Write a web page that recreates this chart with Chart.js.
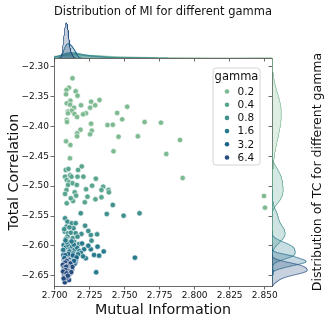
<!DOCTYPE html>
<html>
<head>
<meta charset="utf-8">
<script src="https://cdn.jsdelivr.net/npm/chart.js@4.4.0/dist/chart.umd.min.js"></script>
<style>
  html, body { margin: 0; padding: 0; background: #fff; }
  #wrap { position: relative; width: 330px; height: 322px; }
  #wrap canvas { position: absolute; left: 0; top: 0; }
</style>
</head>
<body>
<div id="wrap">
  <canvas id="main" width="330" height="322"></canvas>
  <canvas id="margx" width="330" height="322"></canvas>
  <canvas id="margy" width="330" height="322"></canvas>
</div>
<script>
// gamma levels and their (MI, TC) points
const gammas = ['0.2', '0.4', '0.8', '1.6', '3.2', '6.4'];

const g02 = [
  [2.7127,-2.3194],[2.7102,-2.3352],[2.7084,-2.3390],[2.7150,-2.3412],[2.7081,-2.3462],[2.7163,-2.3485],
  [2.7112,-2.3569],[2.7320,-2.3557],[2.7260,-2.3586],[2.7086,-2.3613],[2.7110,-2.3636],[2.7188,-2.3646],
  [2.7289,-2.3646],[2.7253,-2.3686],[2.7138,-2.3686],[2.7518,-2.3670],[2.7095,-2.3747],[2.7122,-2.3737],
  [2.7095,-2.3780],[2.7141,-2.3792],[2.7224,-2.3780],[2.7203,-2.3797],[2.7160,-2.3842],[2.7446,-2.3775],
  [2.7482,-2.3881],[2.7086,-2.3892],[2.7088,-2.3926],[2.7260,-2.3954],[2.7377,-2.3976],[2.7415,-2.3971],
  [2.7642,-2.3926],[2.7759,-2.3937],[2.7184,-2.4055],[2.7265,-2.4071],[2.7160,-2.4115],[2.7160,-2.4165],
  [2.7253,-2.4132],[2.7456,-2.4172],[2.7594,-2.4165],[2.7081,-2.4249],[2.7895,-2.4227],[2.7112,-2.4311],
  [2.7420,-2.4416],[2.7797,-2.4461],[2.7109,-2.4533],[2.7914,-2.4863],[2.8495,-2.5165],[2.8502,-2.5360]
];
const g04 = [
  [2.7193,-2.4669],[2.7079,-2.4729],[2.7098,-2.4713],[2.7167,-2.4729],[2.7074,-2.4841],[2.7110,-2.4818],
  [2.7120,-2.4841],[2.7163,-2.4841],[2.7205,-2.4841],[2.7294,-2.4875],[2.7086,-2.4897],[2.7102,-2.4935],
  [2.7127,-2.4952],[2.7095,-2.4980],[2.7158,-2.4980],[2.7267,-2.4992],[2.7346,-2.5009],[2.7224,-2.5052],
  [2.7384,-2.5064],[2.7387,-2.5103],[2.7334,-2.5064],[2.7084,-2.5064],[2.7143,-2.5103],[2.7074,-2.5131],
  [2.7153,-2.5159],[2.7234,-2.5176],[2.7291,-2.5220],[2.7334,-2.5186],[2.7131,-2.5248],[2.7215,-2.5270],
  [2.7086,-2.5287],[2.7115,-2.5203]
];
const g08 = [
  [2.7074,-2.5538],[2.7091,-2.5595],[2.7122,-2.5622],[2.7084,-2.5678],[2.7134,-2.5705],[2.7217,-2.5662],
  [2.7072,-2.5762],[2.7095,-2.5789],[2.7115,-2.5779],[2.7150,-2.5789],[2.7191,-2.5801],[2.7258,-2.5817],
  [2.7303,-2.5806],[2.7091,-2.5846],[2.7129,-2.5873],[2.7163,-2.5846],[2.7263,-2.5913],[2.7115,-2.5946],
  [2.7138,-2.5930],[2.7174,-2.5968],[2.7372,-2.5466],[2.7492,-2.5494],[2.7606,-2.5454],[2.7186,-2.5454],
  [2.7415,-2.5315],[2.7068,-2.5720],[2.7105,-2.5690],[2.7080,-2.5880],[2.7240,-2.5750],[2.7150,-2.5620]
];
const g16 = [
  [2.7064,-2.5985],[2.7081,-2.6021],[2.7098,-2.5992],[2.7112,-2.6047],[2.7125,-2.6008],[2.7143,-2.6063],
  [2.7159,-2.6031],[2.7176,-2.6089],[2.7210,-2.6057],[2.7258,-2.6057],[2.7306,-2.6013],[2.7222,-2.6207],
  [2.7281,-2.6152],[2.7317,-2.6164],[2.7573,-2.6197],[2.7072,-2.6112],[2.7090,-2.6138],[2.7105,-2.6095],
  [2.7131,-2.6127],[2.7152,-2.6171],[2.7188,-2.6118],[2.7068,-2.6186],[2.7117,-2.6205],[2.7240,-2.5998],
  [2.7195,-2.5960],[2.7085,-2.5940],[2.7061,-2.6068],[2.7136,-2.5978],[2.7167,-2.6140],[2.7093,-2.6245],
  [2.7350,-2.6093],[2.7077,-2.5908],[2.7120,-2.5925],[2.7203,-2.6176],[2.7102,-2.6162],[2.7296,-2.6442]
];
const g32 = [
  [2.7062,-2.6151],[2.7079,-2.6192],[2.7094,-2.6226],[2.7108,-2.6173],[2.7121,-2.6248],[2.7135,-2.6211],
  [2.7150,-2.6262],[2.7086,-2.6230],[2.7113,-2.6275],[2.7091,-2.6196],[2.7124,-2.6250],[2.7147,-2.6288],
  [2.7105,-2.6235],[2.7071,-2.6289],[2.7088,-2.6317],[2.7103,-2.6270],[2.7117,-2.6335],[2.7141,-2.6302],
  [2.7099,-2.6348],[2.7066,-2.6240],[2.7098,-2.6138],[2.7130,-2.6160],[2.7076,-2.6158],[2.7096,-2.6320],
  [2.7083,-2.6370],[2.7125,-2.6385],[2.7118,-2.6280],[2.7069,-2.6205],[2.7112,-2.6296],[2.7156,-2.6194],
  [2.7092,-2.6266],[2.7074,-2.6330],[2.7138,-2.6252]
];
const g64 = [
  [2.7071,-2.6270],[2.7079,-2.6310],[2.7086,-2.6252],[2.7092,-2.6338],[2.7068,-2.6295],[2.7083,-2.6362],
  [2.7097,-2.6318],[2.7075,-2.6280],[2.7089,-2.6375],[2.7103,-2.6330],[2.7112,-2.6296],[2.7126,-2.6352],
  [2.7067,-2.6392],[2.7081,-2.6415],[2.7093,-2.6371],[2.7074,-2.6430],[2.7086,-2.6402],[2.7099,-2.6445],
  [2.7078,-2.6418],[2.7063,-2.6350],[2.7091,-2.6470],[2.7058,-2.6318],[2.7070,-2.6360],[2.7079,-2.6400],
  [2.7088,-2.6335],[2.7096,-2.6428],[2.7084,-2.6385],[2.7073,-2.6452],[2.7082,-2.6350],[2.7095,-2.6420],
  [2.7108,-2.6465],[2.7077,-2.6405],[2.7068,-2.6475],[2.7083,-2.6502],[2.7099,-2.6490],[2.7072,-2.6610],
  [2.7102,-2.6571],[2.7087,-2.6530],[2.7064,-2.6545],[2.7118,-2.6440],[2.7060,-2.6430],[2.7085,-2.6460],
  [2.7094,-2.6500]
];
const groups = [g02, g04, g08, g16, g32, g64];

const xTicks = [2.700, 2.725, 2.750, 2.775, 2.800, 2.825, 2.850];
const yTicks = [-2.65, -2.60, -2.55, -2.50, -2.45, -2.40, -2.35, -2.30];
const xMin = 2.6995, xMax = 2.8552;
const yMin = -2.6672, yMax = -2.2854;

// crest palette
const colors = ['#7dba91', '#59a590', '#40908e', '#287a8c', '#1c6488', '#254b7f'];

// layout (pixels)
const AREA = {left: 54, right: 272, top: 58, bottom: 286};
const TOP_MARG_TOP = 21;
const RIGHT_MARG_RIGHT = 309;

const FONT = 'DejaVu Sans';
const INK = '#111';
const SPINE = '#444';

function rgba(hex, a) {
  const n = parseInt(hex.slice(1), 16);
  return 'rgba(' + (n >> 16) + ',' + ((n >> 8) & 255) + ',' + (n & 255) + ',' + a + ')';
}
function minus(v, d) {
  return (v < 0 ? '\u2212' : '') + Math.abs(v).toFixed(d);
}

// gaussian kde, scott bandwidth, weighted by group share (common_norm)
const total = groups.reduce((a, g) => a + g.length, 0);
function kde(vals) {
  const n = vals.length;
  const mean = vals.reduce((a, b) => a + b, 0) / n;
  const sd = Math.sqrt(vals.reduce((a, b) => a + (b - mean) * (b - mean), 0) / (n - 1));
  const bw = sd * Math.pow(n, -0.2);
  const lo = Math.min(...vals) - 3 * bw, hi = Math.max(...vals) + 3 * bw;
  const out = [];
  for (let k = 0; k < 200; k++) {
    const t = lo + (hi - lo) * k / 199;
    let s = 0;
    for (const v of vals) { const z = (t - v) / bw; s += Math.exp(-0.5 * z * z); }
    out.push([t, s / (n * bw * Math.sqrt(2 * Math.PI)) * n / total]);
  }
  return out;
}
const kdeX = groups.map(g => kde(g.map(p => p[0])));
const kdeY = groups.map(g => kde(g.map(p => p[1])));
const topMax = Math.max(...kdeX.map(c => Math.max(...c.map(p => p[1])))) * 1.05;
const rightMax = Math.max(...kdeY.map(c => Math.max(...c.map(p => p[1])))) * 1.05;

const gammaLegend = {
  id: 'gammaLegend',
  afterDraw(chart, args, o) {
    const ctx = chart.ctx;
    ctx.save();
    ctx.beginPath();
    if (ctx.roundRect) ctx.roundRect(o.left, o.top, o.width, o.height, 3);
    else ctx.rect(o.left, o.top, o.width, o.height);
    ctx.fillStyle = 'rgba(255,255,255,0.8)';
    ctx.fill();
    ctx.strokeStyle = '#d4d4d4';
    ctx.lineWidth = 1;
    ctx.stroke();
    ctx.fillStyle = INK;
    ctx.textBaseline = 'middle';
    ctx.textAlign = 'center';
    ctx.font = o.titleSize + 'px "' + FONT + '"';
    ctx.fillText(o.title, o.left + o.width / 2, o.top + 9);
    ctx.textAlign = 'left';
    ctx.font = o.labelSize + 'px "' + FONT + '"';
    chart.data.datasets.forEach((ds, i) => {
      const y = o.top + 23.5 + i * o.step;
      ctx.beginPath();
      ctx.arc(o.left + 14, y, 2.3, 0, Math.PI * 2);
      ctx.fillStyle = ds.backgroundColor;
      ctx.fill();
      ctx.fillStyle = INK;
      ctx.fillText(ds.label, o.left + 24.5, y + 0.5);
    });
    ctx.restore();
  }
};

const sideLabel = {
  id: 'sideLabel',
  afterDraw(chart, args, o) {
    const ctx = chart.ctx;
    const a = chart.chartArea;
    ctx.save();
    ctx.translate(o.x, (a.top + a.bottom) / 2);
    ctx.rotate(-Math.PI / 2);
    ctx.font = o.size + 'px "' + FONT + '"';
    ctx.fillStyle = INK;
    ctx.textAlign = 'center';
    ctx.textBaseline = 'middle';
    ctx.fillText(o.text, 0, 0);
    ctx.restore();
  }
};

const tickMarks = (len) => ({drawOnChartArea: false, drawTicks: true, tickLength: len, color: SPINE, lineWidth: 0.8});

// main scatter
new Chart(document.getElementById('main'), {
  type: 'scatter',
  data: {
    datasets: gammas.map((g, i) => ({
      label: g,
      data: groups[i].map(p => ({x: p[0], y: p[1]})),
      backgroundColor: colors[i],
      borderColor: '#ffffff',
      borderWidth: 0.6,
      pointRadius: 2.7,
      pointHoverRadius: 2.7,
      order: gammas.length - i,
      xAxisID: 'x',
      yAxisID: 'y'
    }))
  },
  options: {
    responsive: false,
    animation: false,
    events: [],
    layout: {padding: {left: 0, top: AREA.top, right: 330 - AREA.right, bottom: 0}},
    plugins: {
      legend: {display: false},
      tooltip: {enabled: false},
      gammaLegend: {left: 213, top: 68, width: 47, height: 97, step: 13.2, title: 'gamma', titleSize: 11.5, labelSize: 10.5}
    },
    scales: {
      x: {
        type: 'linear', min: xMin, max: xMax,
        afterFit: s => { s.height = 322 - AREA.bottom; },
        afterBuildTicks: s => { s.ticks = xTicks.map(v => ({value: v})); },
        grid: tickMarks(3.5),
        border: {color: SPINE, width: 0.8},
        ticks: {padding: 0.5, maxRotation: 0, autoSkip: false, color: INK, font: {family: FONT, size: 9}, callback: v => v.toFixed(3)},
        title: {display: true, text: 'Mutual Information', color: INK, font: {family: FONT, size: 14.3}, padding: {top: 0, bottom: 3.5}}
      },
      y: {
        type: 'linear', min: yMin, max: yMax,
        afterFit: s => { s.width = AREA.left; },
        afterBuildTicks: s => { s.ticks = yTicks.map(v => ({value: v})); },
        grid: tickMarks(3.5),
        border: {color: SPINE, width: 0.8},
        ticks: {padding: 1.5, autoSkip: false, color: INK, font: {family: FONT, size: 9}, callback: v => minus(v, 2)},
        title: {display: true, text: 'Total Correlation', color: INK, font: {family: FONT, size: 14.3}, padding: {top: 5.4, bottom: 0}}
      }
    }
  },
  plugins: [gammaLegend]
});

// marginal kde of MI (top)
new Chart(document.getElementById('margx'), {
  type: 'line',
  data: {
    datasets: gammas.map((g, i) => ({
      label: g,
      data: kdeX[i].map(p => ({x: p[0], y: p[1]})),
      borderColor: rgba(colors[i], 0.9),
      backgroundColor: rgba(colors[i], 0.25),
      borderWidth: 0.8,
      pointRadius: 0,
      fill: 'origin',
      tension: 0,
      order: gammas.length - i,
      xAxisID: 'x',
      yAxisID: 'y'
    }))
  },
  options: {
    responsive: false,
    animation: false,
    events: [],
    layout: {padding: {left: AREA.left, right: 330 - AREA.right, top: 0, bottom: 322 - AREA.top - 6}},
    plugins: {legend: {display: false}, tooltip: {enabled: false}},
    scales: {
      x: {
        type: 'linear', position: 'bottom', min: xMin, max: xMax,
        afterFit: s => { s.height = 6; },
        afterBuildTicks: s => { s.ticks = xTicks.map(v => ({value: v})); },
        grid: tickMarks(3.5),
        border: {color: SPINE, width: 0.8},
        ticks: {display: false}
      },
      xt: {
        type: 'linear', position: 'top', min: xMin, max: xMax,
        afterFit: s => { s.height = TOP_MARG_TOP; },
        grid: {display: false},
        border: {display: false},
        ticks: {display: false},
        title: {display: true, text: 'Distribution of MI for different gamma', color: INK, font: {family: FONT, size: 12.5}, padding: {top: 4.5, bottom: 0}}
      },
      y: {type: 'linear', display: false, min: 0, max: topMax}
    }
  }
});

// marginal kde of TC (right)
new Chart(document.getElementById('margy'), {
  type: 'line',
  data: {
    datasets: gammas.map((g, i) => ({
      label: g,
      data: kdeY[i].map(p => ({x: p[1], y: p[0]})),
      borderColor: rgba(colors[i], 0.9),
      backgroundColor: rgba(colors[i], 0.25),
      borderWidth: 0.8,
      pointRadius: 0,
      fill: 'origin',
      tension: 0,
      order: gammas.length - i,
      xAxisID: 'x',
      yAxisID: 'y'
    }))
  },
  options: {
    indexAxis: 'y',
    responsive: false,
    animation: false,
    events: [],
    layout: {padding: {left: AREA.right - 6, right: 330 - RIGHT_MARG_RIGHT, top: AREA.top, bottom: 322 - AREA.bottom}},
    plugins: {
      legend: {display: false},
      tooltip: {enabled: false},
      sideLabel: {x: 318, size: 12.5, text: 'Distribution of TC for different gamma'}
    },
    scales: {
      y: {
        type: 'linear', position: 'left', min: yMin, max: yMax,
        afterFit: s => { s.width = 6; },
        afterBuildTicks: s => { s.ticks = yTicks.map(v => ({value: v})); },
        grid: tickMarks(3.5),
        border: {color: SPINE, width: 0.8},
        ticks: {display: false}
      },
      x: {type: 'linear', display: false, min: 0, max: rightMax}
    }
  },
  plugins: [sideLabel]
});
</script>
</body>
</html>
